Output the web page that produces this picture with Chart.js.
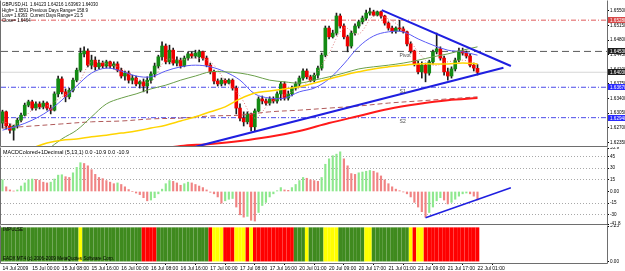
<!DOCTYPE html>
<html><head><meta charset="utf-8">
<script src="https://cdn.jsdelivr.net/npm/chart.js@4.4.0/dist/chart.umd.min.js"></script>
<style>
html,body{margin:0;padding:0;background:#fff;}
#wrap{position:relative;width:625px;height:271px;overflow:hidden;background:#fff;font-family:"Liberation Sans",Arial,sans-serif;}
canvas{position:absolute;left:0;}
.t{position:absolute;font-size:4.45px;line-height:5px;color:#000;white-space:pre;}
.m{font-size:5.4px;}
.c{font-size:4.6px;}
</style></head><body>
<div id="wrap">
<canvas id="cMain" width="625" height="147" style="top:0"></canvas>
<canvas id="cMacd" width="625" height="78" style="top:147px"></canvas>
<canvas id="cImp" width="625" height="46" style="top:225px"></canvas>
<div class="t" style="left:2px;top:2px">GBPUSD,H1  1.64123 1.64216 1.63963 1.64030</div>
<div class="t" style="left:2px;top:7.5px">High= 1.6591</div>
<div class="t" style="left:30px;top:7.5px">Previous Days Range= 158.9</div>
<div class="t" style="left:2px;top:12.5px">Low= 1.6363</div>
<div class="t" style="left:30px;top:12.5px">Current Days Range= 21.5</div>
<div class="t" style="left:2px;top:18px">Close= 1.6464</div>
<div class="t m" style="left:3px;top:149.5px">MACDColored+1Decimal (5,13,1) 0.0 -10.9 0.0 -10.9</div>
<div class="t c" style="left:3px;top:226.5px">IMPULSE</div>
<div class="t c" style="left:3px;top:256px">EADX MT4 (c) 2006-2009 MetaQuotes Software Corp.</div>
</div>
<script>
// ---------- DATA ----------
const openP = [1.6281,1.6308,1.6274,1.6264,1.6274,1.6288,1.6300,1.6324,1.6332,1.6317,
1.6327,1.6320,1.6329,1.6317,1.6312,1.6351,1.6387,1.6356,1.6344,1.6360,
1.6384,1.6408,1.6447,1.6454,1.6420,1.6432,1.6416,1.6425,1.6418,1.6428,
1.6418,1.6423,1.6408,1.6394,1.6401,1.6384,1.6389,1.6375,1.6380,1.6370,
1.6384,1.6399,1.6418,1.6440,1.6466,1.6428,1.6456,1.6425,1.6432,1.6418,
1.6437,1.6447,1.6442,1.6440,1.6452,1.6437,1.6420,1.6404,1.6382,1.6375,
1.6384,1.6377,1.6384,1.6365,1.6317,1.6293,1.6284,1.6303,1.6272,1.6310,
1.6339,1.6334,1.6329,1.6339,1.6334,1.6351,1.6375,1.6341,1.6351,1.6365,
1.6375,1.6389,1.6406,1.6392,1.6384,1.6396,1.6413,1.6444,1.6509,1.6488,
1.6497,1.6538,1.6514,1.6488,1.6466,1.6497,1.6514,1.6524,1.6533,1.6545,
1.6548,1.6540,1.6548,1.6538,1.6521,1.6509,1.6502,1.6509,1.6507,1.6500,
1.6471,1.6454,1.6423,1.6404,1.6420,1.6401,1.6428,1.6452,1.6459,1.6437,
1.6404,1.6394,1.6411,1.6432,1.6454,1.6449,1.6442,1.6420,1.64123];
const closeP = [1.6308,1.6274,1.6264,1.6274,1.6288,1.6300,1.6324,1.6332,1.6317,1.6327,
1.6320,1.6329,1.6317,1.6312,1.6351,1.6387,1.6356,1.6344,1.6360,1.6384,
1.6408,1.6449,1.6454,1.6420,1.6432,1.6416,1.6425,1.6418,1.6428,1.6418,
1.6423,1.6408,1.6394,1.6401,1.6384,1.6389,1.6375,1.6380,1.6370,1.6384,
1.6399,1.6418,1.6440,1.6466,1.6428,1.6456,1.6425,1.6432,1.6418,1.6437,
1.6447,1.6442,1.6449,1.6452,1.6437,1.6420,1.6404,1.6382,1.6375,1.6384,
1.6377,1.6384,1.6365,1.6317,1.6293,1.6284,1.6303,1.6272,1.6310,1.6339,
1.6334,1.6329,1.6339,1.6334,1.6351,1.6375,1.6341,1.6351,1.6365,1.6375,
1.6389,1.6406,1.6392,1.6384,1.6396,1.6413,1.6444,1.6509,1.6488,1.6497,
1.6538,1.6514,1.6488,1.6466,1.6497,1.6514,1.6524,1.6533,1.6545,1.6548,
1.6540,1.6548,1.6538,1.6521,1.6509,1.6502,1.6509,1.6507,1.6500,1.6471,
1.6454,1.6423,1.6404,1.6420,1.6401,1.6428,1.6452,1.6459,1.6437,1.6404,
1.6394,1.6411,1.6432,1.6454,1.6449,1.6442,1.6420,1.6413,1.64030];
const highP = [1.6312,1.6310,1.6279,1.6276,1.6293,1.6305,1.6329,1.6336,1.6336,1.6332,
1.6332,1.6334,1.6332,1.6324,1.6356,1.6394,1.6392,1.6363,1.6365,1.6389,
1.6413,1.6461,1.6464,1.6459,1.6444,1.6440,1.6432,1.6430,1.6432,1.6430,
1.6428,1.6428,1.6413,1.6406,1.6406,1.6396,1.6394,1.6384,1.6387,1.6392,
1.6404,1.6425,1.6444,1.6476,1.6471,1.6468,1.6461,1.6440,1.6437,1.6442,
1.6452,1.6452,1.6456,1.6456,1.6454,1.6442,1.6425,1.6408,1.6387,1.6389,
1.6387,1.6387,1.6387,1.6370,1.6327,1.6308,1.6308,1.6305,1.6315,1.6344,
1.6346,1.6339,1.6344,1.6344,1.6356,1.6380,1.6380,1.6358,1.6370,1.6380,
1.6394,1.6411,1.6411,1.6396,1.6401,1.6418,1.6449,1.6514,1.6514,1.6504,
1.6545,1.6543,1.6519,1.6492,1.6502,1.6519,1.6528,1.6538,1.6552,1.6557,
1.6552,1.6550,1.6550,1.6540,1.6524,1.6514,1.6512,1.6528,1.6512,1.6502,
1.6476,1.6456,1.6430,1.6428,1.6425,1.6432,1.6456,1.6497,1.6464,1.6442,
1.6413,1.6416,1.6437,1.6461,1.6461,1.6454,1.6447,1.6425,1.64216];
const lowP = [1.6269,1.6267,1.6257,1.6240,1.6269,1.6284,1.6298,1.6320,1.6312,1.6312,
1.6315,1.6315,1.6312,1.6303,1.6310,1.6344,1.6351,1.6332,1.6339,1.6356,
1.6380,1.6404,1.6440,1.6416,1.6411,1.6408,1.6411,1.6413,1.6413,1.6413,
1.6411,1.6404,1.6389,1.6384,1.6377,1.6375,1.6370,1.6365,1.6356,1.6353,
1.6377,1.6392,1.6413,1.6432,1.6423,1.6423,1.6420,1.6418,1.6413,1.6416,
1.6432,1.6437,1.6437,1.6428,1.6432,1.6416,1.6399,1.6375,1.6370,1.6370,
1.6372,1.6375,1.6360,1.6303,1.6286,1.6274,1.6279,1.6262,1.6262,1.6308,
1.6327,1.6324,1.6324,1.6329,1.6329,1.6336,1.6336,1.6336,1.6346,1.6360,
1.6368,1.6384,1.6387,1.6380,1.6380,1.6389,1.6408,1.6440,1.6483,1.6485,
1.6492,1.6509,1.6483,1.6452,1.6461,1.6492,1.6509,1.6519,1.6528,1.6540,
1.6538,1.6538,1.6533,1.6516,1.6504,1.6497,1.6497,1.6502,1.6497,1.6466,
1.6449,1.6418,1.6399,1.6389,1.6380,1.6396,1.6423,1.6447,1.6432,1.6396,
1.6384,1.6389,1.6406,1.6428,1.6444,1.6437,1.6416,1.6406,1.63963];

// moving averages, read at sampled bar indexes
const maIdx4 = [0,4,8,12,16,20,24,28,32,36,40,44,48,52,56,60,64,68,72,76,80,84,88,92,96,100,104,108,112,116,120,124,128];
const maBlue = [1.6264,1.6274,1.6288,1.6308,1.6336,1.6370,1.6401,1.6413,1.6406,1.6394,1.6392,1.6406,1.6416,1.6420,1.6416,1.6404,1.6384,1.6351,1.6341,1.6341,1.6356,1.6365,1.6387,1.6423,1.6464,1.6490,1.6500,1.6500,1.6483,1.6468,1.6456,1.6452,1.6444];
const maPink = [1.6284,1.6279,1.6312,1.6322,1.6344,1.6370,1.6428,1.6423,1.6413,1.6387,1.6380,1.6432,1.6432,1.6437,1.6428,1.6384,1.6346,1.6293,1.6329,1.6348,1.6365,1.6394,1.6449,1.6509,1.6495,1.6538,1.6531,1.6504,1.6452,1.6420,1.6428,1.6432,1.6423];
const maGreenIdx = [12,16,20,24,28,32,36,40,44,48,52,56,60,64,68,72,76,80,84,88,92,96,100,104,108,112,116,120,124,128];
const maGreen = [1.6216,1.6243,1.6264,1.6296,1.6327,1.6341,1.6351,1.6363,1.6372,1.6384,1.6394,1.6404,1.6404,1.6401,1.6394,1.6384,1.6380,1.6377,1.6384,1.6392,1.6401,1.6411,1.6416,1.6420,1.6425,1.6432,1.6440,1.6447,1.6456,1.6464];
const maYellowIdx = [8,12,16,20,24,28,32,36,40,44,48,52,56,60,64,68,72,76,80,84,88,92,96,100,104,108,112,116,120,124,128];
const maYellow = [1.6221,1.6233,1.6240,1.6243,1.6248,1.6252,1.6257,1.6262,1.6269,1.6276,1.6286,1.6296,1.6308,1.6320,1.6339,1.6353,1.6358,1.6363,1.6368,1.6377,1.6387,1.6396,1.6404,1.6411,1.6416,1.6420,1.6423,1.6423,1.6423,1.6425,1.6423];
const maBrownIdx = [0,8,16,24,32,40,48,56,64,72,80,88,96,104,112,120,128];
const maBrown = [1.6269,1.6274,1.6279,1.6284,1.6286,1.6291,1.6293,1.6298,1.6300,1.6308,1.6312,1.6317,1.6322,1.6329,1.6334,1.6339,1.6344];
const maRedIdx = [44,48,56,64,72,80,88,96,104,112,120,128];
const maRed = [1.6221,1.6226,1.6231,1.6238,1.6248,1.6262,1.6281,1.6298,1.6315,1.6327,1.6336,1.6341];

// trend lines: [bar index, price]
const trendUpper = [[102.2,1.6552],[137,1.6418]];
const trendLower = [[52,1.6224],[135,1.6414]];
const trendMacd = [[114,-33.7],[137,4.7]];

// horizontal levels
const levelPrices = [1.6528, 1.6453, 1.64030, 1.6367, 1.6294];
const levelNames = ['', 'Pivot', '', 'S1', 'S2'];
const levelTagIndex = 107;

// MACD histogram
const macd = [15,6,2,0.5,2,7,11,15,16,15.5,
14.5,12,11,12,16,21,21.5,19,18,24,
31,37,36,33,28,22,18,16.5,14,12,
10,11,9,6,2.5,0,-2,-4,-8,-12,
-11,-8,-3,3,10,14,13,11,8,10,
12,11,9,7,5,2,-1,-3,-7,-15,
-12,-10,-9,-20,-30,-33,-32,-37,-38,-27,
-18,-14,-7,-3,1,5,2,1.5,5,9,
14,18,17,15,14,13,18,35,42,46,
48,51,42,33,23,22,24,25,26,27,
26,24,20,15,10,6,3,1,-0.5,-3,
-7,-14,-20,-26,-33,-27,-20,-12,-8,-11,
-16,-14,-10,-6,-3,-2,-3,-6,-10.9];
const macdTickVals = [55.9,45,30,15,0,-15,-30,-41.8];
const macdTickLabels = ['55.9','45','30','15','0.00','-15','-30','-41.8'];
const macdLevels = [45,30,15,-15,-30];

// impulse state per bar (G green, Y yellow, R red)
const impulseState = ('GGGGGGGGGGGGGGGGGGGGG' + 'Y' + 'GGGGGGGGGGGGGGGG' + 'RRRR' + 'GGGGGGGGGGGGGG' +
  'R' + 'YYY' + 'RRR' + 'YYY' + 'R' + 'Y' + 'RRRRRRRRRRR' + 'GGG' + 'Y' + 'GGGG' + 'YYYY' + 'GGGGGGG' +
  'YY' + 'GGGGGGGGGG' + 'Y' + 'R' + 'YY' + 'RRRRRRRRRRRRRRR').split('');
const impulseLevel = 5;
const impTickVals = [5.25, 0];
const impTickLabels = ['5.25', '0.00'];

// axis ticks
const priceTicks = [1.6550,1.6515,1.6480,1.6445,1.6410,1.6375,1.6340,1.6305,1.6270,1.6235];
const timeTickIdx = [0,8,16,24,32,40,48,56,64,72,80,88,96,104,112,120,128];
const timeLabels = ['14 Jul 2009','15 Jul 00:00','15 Jul 08:00','15 Jul 16:00','16 Jul 00:00','16 Jul 08:00','16 Jul 16:00','17 Jul 00:00','17 Jul 08:00','17 Jul 16:00','20 Jul 01:00','20 Jul 09:00','20 Jul 17:00','21 Jul 01:00','21 Jul 09:00','21 Jul 17:00','22 Jul 01:00'];

// ---------- STYLE / SETUP ----------
const FONT = '"Liberation Sans", Arial, sans-serif';
const X_MIN = -0.4, X_MAX = 162.9;
const AXIS_W = 18;
const BULL = '#148a14', BEAR = '#ee0000';
const IMP_COL = {G:'#3f8a1e', Y:'#ffff00', R:'#ff0000'};

const pts = (idx, vals) => idx.map((x, k) => ({x, y: vals[k]}));
const seg = arr => arr.map(p => ({x: p[0], y: p[1]}));

function lineDs(data, color, width, dash, order, tension) {
  return {type:'line', data, borderColor:color, borderWidth:width, borderDash:dash||[],
    pointRadius:0, tension: tension||0, fill:false, order, borderCapStyle:'butt'};
}

const framePlugin = {
  id:'frame',
  afterDraw(chart, args, opts) {
    const {ctx, chartArea:a} = chart;
    ctx.save();
    ctx.strokeStyle = '#6e6e6e'; ctx.lineWidth = 1;
    ctx.beginPath();
    if (opts.top) { ctx.moveTo(a.left-0.5, a.top-0.5); ctx.lineTo(a.right+0.5, a.top-0.5); }
    ctx.moveTo(a.left-0.5, a.top-0.5); ctx.lineTo(a.left-0.5, a.bottom+0.5);
    ctx.moveTo(a.right+0.5, a.top-0.5); ctx.lineTo(a.right+0.5, a.bottom+0.5);
    ctx.moveTo(a.left-0.5, a.bottom+0.5); ctx.lineTo(a.right+0.5, a.bottom+0.5);
    ctx.stroke();
    ctx.restore();
  }
};

function yAxis(min, max, tickVals, labelFn, extra) {
  return Object.assign({
    type:'linear', position:'right', min, max, bounds:'data',
    afterBuildTicks: s => { s.ticks = tickVals.map(v => ({value:v})); },
    afterFit: s => { s.width = AXIS_W; s.paddingTop = 0; s.paddingBottom = 0; },
    ticks:{autoSkip:false, padding:1, color:'#000', font:{size:4.6, family:FONT}, callback: labelFn},
    grid:{display:true, drawOnChartArea:false, drawTicks:true, tickLength:2, tickColor:'#000', color:'#000'},
    border:{display:false}
  }, extra || {});
}
function hiddenX() {
  return {type:'linear', min:X_MIN, max:X_MAX, offset:false, bounds:'data', display:false};
}
const common = {
  responsive:false, maintainAspectRatio:false, animation:false, devicePixelRatio:1, events:[],
  plugins:{legend:{display:false}, tooltip:{enabled:false}}
};

// ---------- MAIN PRICE PANEL ----------
const levelStyles = [
  {c:'#e05a5a', d:[5,2,1,2]}, {c:'#5a5a5a', d:[7,4]}, {c:'#d6d6d6', d:[]},
  {c:'#4b4bea', d:[5,2,1,2]}, {c:'#4b4bea', d:[5,2,1,2]}
];
const boxColors = ['#d84848', '#1e1e1e', '#1e1e1e', '#2a2aff', '#2a2aff'];

const mainOverlay = {
  id:'mainOverlay',
  afterDatasetsDraw(chart) {
    const {ctx, scales:{x, y}} = chart;
    ctx.save();
    ctx.font = '5px ' + FONT; ctx.fillStyle = '#4a4a4a'; ctx.textBaseline = 'top';
    levelNames.forEach((n, k) => { if (n) ctx.fillText(n, x.getPixelForValue(levelTagIndex), y.getPixelForValue(levelPrices[k]) + 1.5); });
    ctx.restore();
  },
  afterDraw(chart) {
    const {ctx, chartArea:a, scales:{y}} = chart;
    ctx.save();
    ctx.font = '4.6px ' + FONT; ctx.textBaseline = 'middle';
    levelPrices.forEach((p, k) => {
      const py = Math.round(y.getPixelForValue(p));
      ctx.fillStyle = boxColors[k];
      ctx.fillRect(a.right + 1, py - 3, 625 - a.right, 6);
      ctx.fillStyle = '#fff';
      ctx.fillText(p.toFixed(5), a.right + 3, py + 0.5);
    });
    ctx.restore();
  }
};

const mainDatasets = [
  {type:'bar', data: lowP.map((l, i) => ({x:i, y:[l, highP[i]]})), backgroundColor:'#1c1c1c',
    barThickness:1, grouped:false, order:6},
  {type:'bar', data: openP.map((o, i) => ({x:i, y:[o, closeP[i]]})),
    backgroundColor: c => closeP[c.dataIndex] >= openP[c.dataIndex] ? BULL : BEAR,
    barThickness:3, minBarLength:1, grouped:false, order:5},
  lineDs(pts(maRedIdx, maRed), '#ff1a1a', 2, [], 4, 0.35),
  lineDs(pts(maBrownIdx, maBrown), '#b05a5a', 1, [5,3], 4, 0.35),
  lineDs(pts(maYellowIdx, maYellow), '#ffd400', 1.5, [], 3, 0.35),
  lineDs(pts(maGreenIdx, maGreen), '#6a9f4a', 1, [], 3, 0.35),
  lineDs(pts(maIdx4, maBlue), '#5a5af5', 1, [], 3, 0.35),
  lineDs(pts(maIdx4, maPink), '#dd7d7d', 1, [1,2], 3, 0.35),
  lineDs(seg(trendUpper), '#1f1fe0', 2, [], 1),
  lineDs(seg(trendLower), '#1f1fe0', 2, [], 1)
];
levelPrices.forEach((p, k) => {
  mainDatasets.push(lineDs([{x:X_MIN, y:p}, {x:X_MAX, y:p}], levelStyles[k].c, 1, levelStyles[k].d, 8));
});

new Chart(document.getElementById('cMain'), {
  type:'bar',
  data:{datasets: mainDatasets},
  options: Object.assign({}, common, {
    layout:{padding:{left:1, right:0, top:1, bottom:1}},
    scales:{
      x: hiddenX(),
      y: yAxis(1.6226, 1.6574, priceTicks, v => v.toFixed(5))
    },
    plugins: Object.assign({}, common.plugins, {frame:{top:false}})
  }),
  plugins:[framePlugin, mainOverlay]
});

// ---------- MACD PANEL ----------
new Chart(document.getElementById('cMacd'), {
  type:'bar',
  data:{datasets:[
    {type:'bar', data: macd.map((v, i) => ({x:i, y:v})),
      backgroundColor: c => (c.dataIndex === 0 || macd[c.dataIndex] >= macd[c.dataIndex - 1]) ? '#8ee88e' : '#f08484',
      barThickness:1.5, grouped:false, order:2},
    lineDs(seg(trendMacd), '#1f1fe0', 1.5, [], 1)
  ]},
  options: Object.assign({}, common, {
    layout:{padding:{left:1, right:0, top:1, bottom:1}},
    scales:{
      x: hiddenX(),
      y: yAxis(-41.8, 55.9, macdTickVals, (v, i) => macdTickLabels[i], {
        grid:{display:true, drawOnChartArea:true, drawTicks:true, tickLength:2, tickColor:'#000',
          color: c => (c.tick && macdLevels.includes(c.tick.value)) ? '#a8a8a8' : 'rgba(0,0,0,0)'},
        border:{display:false, dash:[1,2]}
      })
    },
    plugins: Object.assign({}, common.plugins, {frame:{top:false}})
  }),
  plugins:[framePlugin]
});

// ---------- IMPULSE PANEL ----------
new Chart(document.getElementById('cImp'), {
  type:'bar',
  data:{datasets:[
    {type:'bar', data: impulseState.map((s, i) => ({x:i, y:impulseLevel})),
      backgroundColor: c => IMP_COL[impulseState[c.dataIndex]],
      barThickness:3, grouped:false}
  ]},
  options: Object.assign({}, common, {
    layout:{padding:{left:1, right:0, top:1, bottom:0}},
    scales:{
      x:{type:'linear', min:X_MIN, max:X_MAX, offset:false, bounds:'data', position:'bottom',
        afterBuildTicks: s => { s.ticks = timeTickIdx.map(v => ({value:v})); },
        afterFit: s => { s.height = 8; s.paddingLeft = 0; s.paddingRight = 0; },
        ticks:{autoSkip:false, maxRotation:0, minRotation:0, align:'start', padding:1, color:'#000',
          font:{size:5, family:FONT}, callback:(v, i) => timeLabels[i]},
        grid:{display:true, drawOnChartArea:false, drawTicks:true, tickLength:2, tickColor:'#000', color:'#000'},
        border:{display:false}},
      y: yAxis(-0.2, 5.25, impTickVals, (v, i) => impTickLabels[i])
    },
    plugins: Object.assign({}, common.plugins, {frame:{top:false}})
  }),
  plugins:[framePlugin]
});
</script>
</body></html>
